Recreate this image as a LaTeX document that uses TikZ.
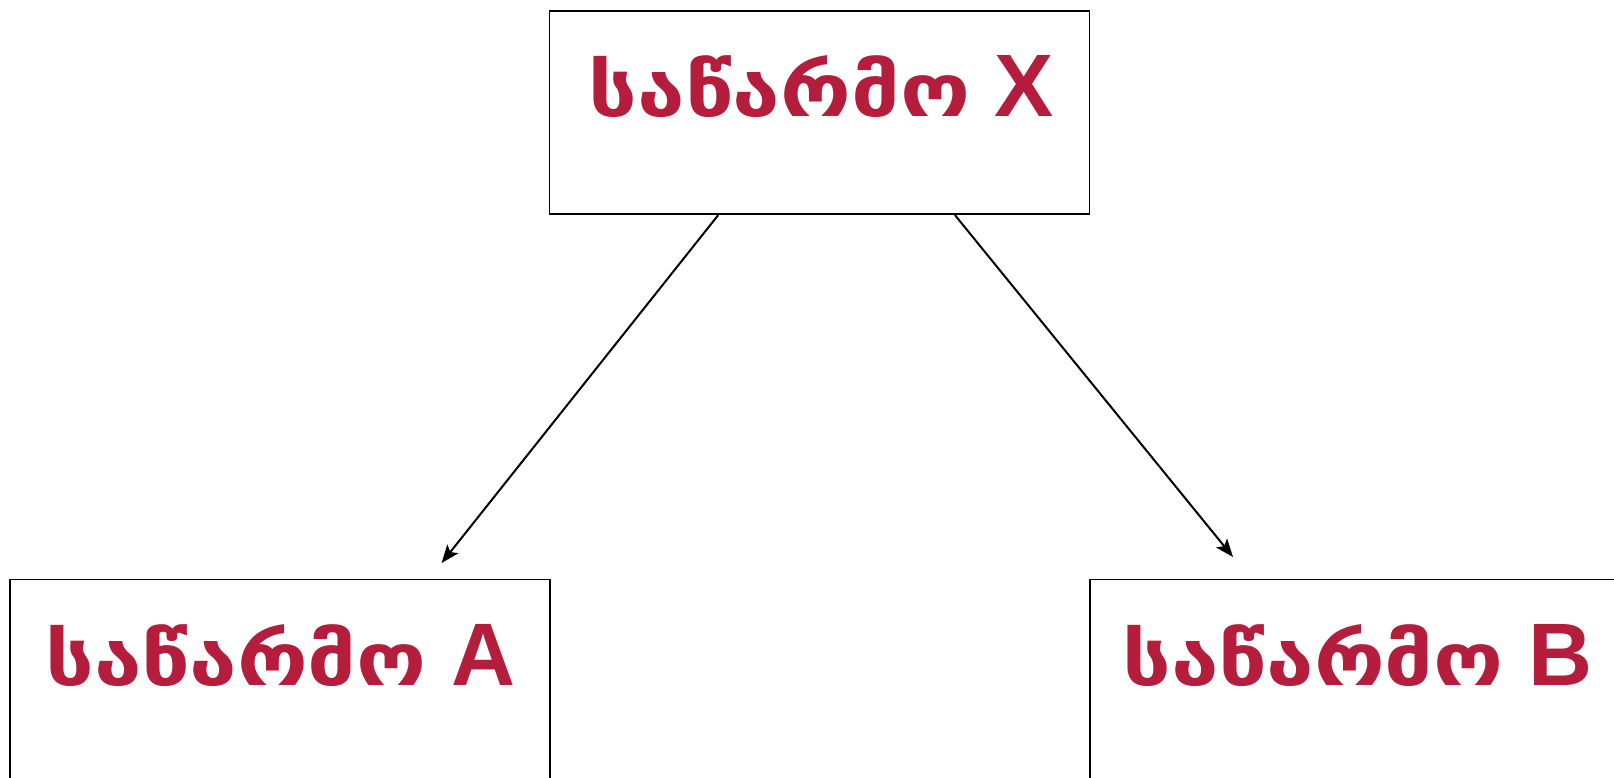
\documentclass[tikz,border=0pt]{standalone}
\usepackage{fontspec}
\newfontfamily\geofont[FakeStretch=1.17]{DejaVu Sans}
\newfontfamily\latfont{Liberation Sans}
\usetikzlibrary{arrows.meta,calc}
\definecolor{crim}{RGB}{180,30,60}
\newcommand{\geo}[1]{{\fontsize{73.5}{90}\selectfont\geofont\bfseries #1}}
\tikzset{
  box/.style={draw=black, line width=1.8pt, minimum width=540pt, minimum height=203pt, inner sep=0pt, anchor=north west},
  lbl/.style={text=crim, anchor=base, inner sep=0pt, font=\fontsize{88.7}{100}\selectfont\bfseries\latfont},
  conn/.style={draw=black, line width=2pt, -{Stealth[length=18pt,width=14pt,inset=4pt]}}
}
\begin{document}
\begin{tikzpicture}[x=1pt,y=-1pt]
\useasboundingbox (0,0) rectangle (1614,778);
\clip (0,0) rectangle (1614,778);
\fill[white] (0,0) rectangle (1614,778);
\node[box] (X) at (548.6,10.3) {};
\node[box] (A) at (9.3,578.5) {};
\node[box] (B) at (1089,578.5) {};
\begin{scope}
\clip (0,0) rectangle (1614,117);
\node[lbl] (tx) at (821.5,117) {\geo{საწარმო} X};
\end{scope}
\begin{scope}
\clip (0,578) rectangle (1614,685.5);
\node[lbl] (ta) at (280.5,685.5) {\geo{საწარმო} A};
\node[lbl] (tb) at (1357.5,685.5) {\geo{საწარმო} B};
\end{scope}
\coordinate (xa) at ($(X.south west)!0.313!(X.south east)$);
\coordinate (xb) at ($(X.south west)!0.75!(X.south east)$);
\coordinate (ea) at (441.6,563);
\coordinate (eb) at (1233,557);
\draw[conn] (xa) -- (ea);
\draw[conn] (xb) -- (eb);
\end{tikzpicture}
\end{document}
